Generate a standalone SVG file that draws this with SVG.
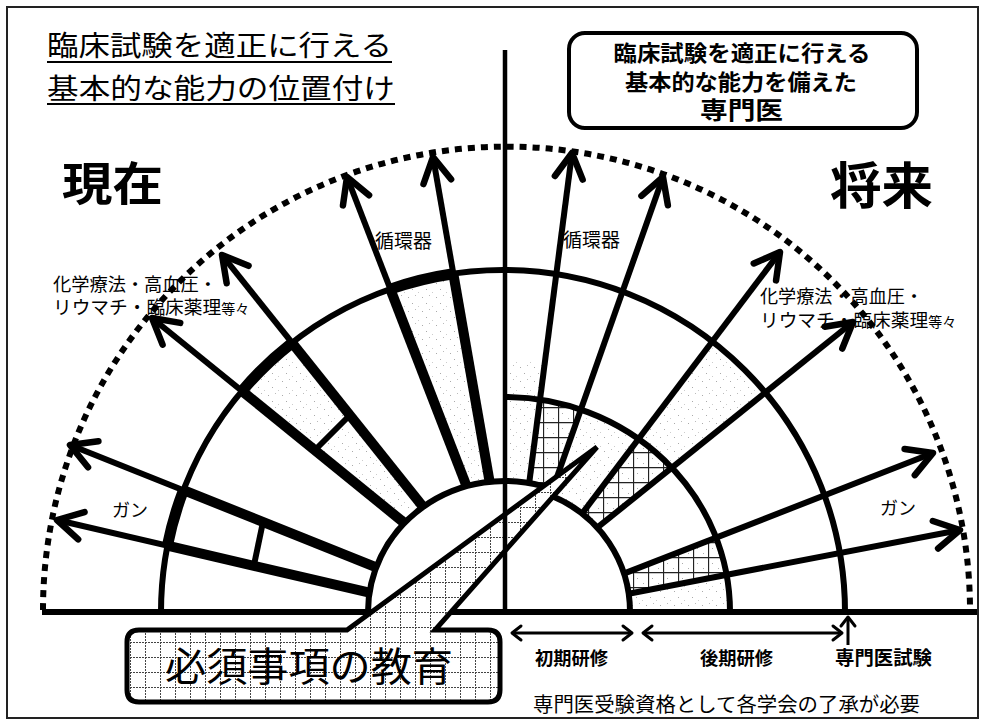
<svg xmlns="http://www.w3.org/2000/svg" width="981" height="720" viewBox="0 0 981 720">
<style>
.ln{fill:none;stroke:#000;stroke-width:6}
.thk{fill:none;stroke:#000;stroke-width:10;stroke-linecap:butt}
.arc{fill:none;stroke:#000;stroke-width:6}
.thin{fill:none;stroke:#000;stroke-width:3}
.jp{font-family:"Noto Sans CJK JP","Noto Sans CJK SC",sans-serif;fill:#000}
.b{font-weight:bold}
</style>
<defs>
<marker id="ah" viewBox="-30 -18 40 36" refX="0" refY="0" markerWidth="40" markerHeight="36" markerUnits="userSpaceOnUse" orient="auto">
<path d="M-25,-14 L0,0 L-25,14" fill="none" stroke="#000" stroke-width="6.5" stroke-linecap="round" stroke-linejoin="round"/>
</marker>
<marker id="th" viewBox="-13 -10 16 20" refX="0" refY="0" markerWidth="16" markerHeight="20" markerUnits="userSpaceOnUse" orient="auto-start-reverse">
<path d="M-9,-7 L0,0 L-9,7" fill="none" stroke="#000" stroke-width="3" stroke-linecap="round" stroke-linejoin="round"/>
</marker>
<pattern id="grid" patternUnits="userSpaceOnUse" width="15" height="15" x="130" y="627">
<rect width="15" height="15" fill="#fff"/>
<path d="M0,0.5 H15 M0.5,0 V15" stroke="#444" stroke-width="1" stroke-dasharray="2 1"/>
</pattern>
<pattern id="grid2" patternUnits="userSpaceOnUse" width="15" height="15" x="3" y="2">
<rect width="15" height="15" fill="#fff"/>
<rect x="4" y="6" width="1" height="1" fill="#aaa"/><rect x="10" y="11" width="1" height="1" fill="#aaa"/>
<path d="M0,0.5 H15 M0.5,0 V15" stroke="#222" stroke-width="1.3"/>
</pattern>
<pattern id="stip" patternUnits="userSpaceOnUse" width="14" height="14">
<rect width="14" height="14" fill="#fff"/>
<rect x="2" y="3" width="1" height="1" fill="#aaa"/><rect x="9" y="1" width="1" height="1" fill="#bbb"/>
<rect x="6" y="9" width="1" height="1" fill="#aaa"/><rect x="12" y="12" width="1" height="1" fill="#ccc"/>
</pattern>
</defs>
<rect width="981" height="720" fill="#fff"/>
<rect id="frame" x="7" y="7" width="971" height="711" fill="none" stroke="#222" stroke-width="2"/>

<g id="regions">
<path d="M423.1,506.9 L292.1,342.8 A342,342 0 0 0 242,391 L404.4,523 Z" fill="url(#stip)"/>
<path d="M466.6,486.2 L390.3,289.1 A342,342 0 0 1 453.3,273.7 L489.6,481.6 Z" fill="url(#stip)"/>
<path d="M507,360 L545,360 L529,483 L507,481 Z" fill="url(#stip)"/>
<path d="M551,494 L581,409 A225,215 0 0 1 638.5,439 L582.2,513.4 Z" fill="url(#stip)"/>
<path d="M638.5,439 L712.3,341.5 A342,342 0 0 1 765.3,392.5 L672,467.7 Z" fill="url(#stip)"/>
<path d="M628.6,593.7 L726.6,574.8 L730,612 L630,612 Z" fill="url(#stip)"/>
<path d="M529,483 L540.5,399.5 A225,215 0 0 1 581,409 L551,494 Z" fill="url(#grid2)"/>
<path d="M582.2,513.4 L638.5,439 A225,215 0 0 1 672,467.7 L597.2,527.7 A125,125 0 0 0 582.2,513.4 Z" fill="url(#grid2)"/>
<path d="M623.8,573.6 L716,537.6 A225,215 0 0 1 726.6,574.8 L628.6,593.7 A125,125 0 0 0 623.8,573.6 Z" fill="url(#grid2)"/>
</g>

<g id="arcs">
<path d="M43,610 A463.5,463.5 0 0 1 970,610" fill="none" stroke="#000" stroke-width="6" stroke-dasharray="7 6"/>
<path class="arc" d="M161,612 A342,342 0 0 1 845,612"/>
<path class="arc" d="M505,397 A225,215 0 0 1 730,612"/>
<path class="arc" d="M368,612 A137,131 0 0 1 543,486.1"/>
<path class="arc" d="M553,496.6 A125,125 0 0 1 630,612"/>
<path fill="none" stroke="#000" stroke-width="11" d="M167.4,545.7 A342,342 0 0 1 183.5,490.1"/>
<path fill="none" stroke="#000" stroke-width="11" d="M242,391 A342,342 0 0 1 292.1,342.8"/>
<path fill="none" stroke="#000" stroke-width="11" d="M390.3,289.1 A342,342 0 0 1 453.3,273.7"/>
<line class="ln" x1="42" y1="612" x2="977" y2="612"/>
</g>

<g id="connectors">
<line class="ln" x1="376.3" y1="567.3" x2="70" y2="445" marker-end="url(#ah)"/>
<line class="ln" x1="369.4" y1="592.6" x2="57" y2="520" marker-end="url(#ah)"/>
<line class="ln" x1="423.1" y1="506.9" x2="222" y2="255" marker-end="url(#ah)"/>
<line class="ln" x1="404.4" y1="523" x2="152" y2="318" marker-end="url(#ah)"/>
<line class="ln" x1="466.6" y1="486.2" x2="347" y2="177" marker-end="url(#ah)"/>
<line class="ln" x1="489.6" y1="481.6" x2="433" y2="157" marker-end="url(#ah)"/>
<line class="thk" x1="376.3" y1="567.3" x2="183.5" y2="490.1"/>
<line class="thk" x1="369.4" y1="592.6" x2="167.4" y2="545.7"/>
<line class="thk" x1="423.1" y1="506.9" x2="292.1" y2="342.8"/>
<line class="thk" x1="404.4" y1="523" x2="242" y2="391"/>
<line class="thk" x1="466.6" y1="486.2" x2="390.3" y2="289.1"/>
<line class="thk" x1="489.6" y1="481.6" x2="453.3" y2="273.7"/>
<line class="ln" x1="263" y1="522" x2="254" y2="565"/>
<line class="ln" x1="315" y1="450" x2="350" y2="415"/>
<line class="ln" x1="529.2" y1="483" x2="572" y2="153" marker-end="url(#ah)"/>
<line class="ln" x1="551" y1="494" x2="663" y2="177" marker-end="url(#ah)"/>
<line class="ln" x1="582.2" y1="513.4" x2="780" y2="252" marker-end="url(#ah)"/>
<line class="ln" x1="597.2" y1="527.7" x2="853" y2="322" marker-end="url(#ah)"/>
<line class="ln" x1="623.8" y1="573.6" x2="933" y2="453" marker-end="url(#ah)"/>
<line class="ln" x1="628.6" y1="593.7" x2="960" y2="530" marker-end="url(#ah)"/>
<line class="thin" x1="512" y1="633" x2="632" y2="633" marker-start="url(#th)" marker-end="url(#th)"/>
<line class="thin" x1="643" y1="633" x2="842" y2="633" marker-start="url(#th)" marker-end="url(#th)"/>
<line class="thin" x1="848" y1="645" x2="848" y2="617" marker-end="url(#th)"/>
</g>

<g id="callout">
<path d="M139,630 L347,630 L597,447 L435,630 L488,630 Q500,630 500,642 L500,690 Q500,702 488,702 L139,702 Q127,702 127,690 L127,642 Q127,630 139,630 Z" fill="url(#grid)" stroke="#000" stroke-width="5"/>
<text class="jp" x="165" y="681" font-size="40" textLength="288" lengthAdjust="spacingAndGlyphs">必須事項の教育</text>
</g>

<g id="axis">
<line x1="505" y1="50" x2="505" y2="612" stroke="#000" stroke-width="4.5"/>
</g>

<g id="title">
<text class="jp" x="47" y="56" font-size="28" textLength="345" lengthAdjust="spacingAndGlyphs">臨床試験を適正に行える</text>
<text class="jp" x="47" y="99" font-size="28" textLength="348" lengthAdjust="spacingAndGlyphs">基本的な能力の位置付け</text>
<line x1="47" y1="62" x2="392" y2="62" stroke="#000" stroke-width="2"/>
<line x1="47" y1="104" x2="395" y2="104" stroke="#000" stroke-width="2"/>
</g>

<g id="now-label"><text class="jp b" x="62" y="200" font-size="46" textLength="101" lengthAdjust="spacingAndGlyphs">現在</text></g>
<g id="future-label"><text class="jp b" x="830" y="204" font-size="50" textLength="103" lengthAdjust="spacingAndGlyphs">将来</text></g>

<g id="goal-box">
<rect x="569" y="33" width="348" height="95" rx="16" fill="#fff" stroke="#000" stroke-width="4"/>
<text class="jp b" x="742" y="61" font-size="22" text-anchor="middle" textLength="257" lengthAdjust="spacingAndGlyphs">臨床試験を適正に行える</text>
<text class="jp b" x="741" y="90" font-size="22" text-anchor="middle" textLength="232" lengthAdjust="spacingAndGlyphs">基本的な能力を備えた</text>
<text class="jp b" x="741.5" y="119" font-size="24" text-anchor="middle" textLength="83" lengthAdjust="spacingAndGlyphs">専門医</text>
</g>

<g id="labels-left">
<text class="jp" x="375" y="248" font-size="19">循環器</text>
<text class="jp" x="53" y="291" font-size="18" textLength="164" lengthAdjust="spacingAndGlyphs">化学療法・高血圧・</text>
<text class="jp" x="53" y="314" font-size="18.7">リウマチ・臨床薬理<tspan font-size="14">等々</tspan></text>
<text class="jp" x="112" y="517" font-size="18">ガン</text>
</g>
<g id="labels-right">
<text class="jp" x="563" y="247" font-size="19">循環器</text>
<text class="jp" x="760" y="303" font-size="18" textLength="163" lengthAdjust="spacingAndGlyphs">化学療法・高血圧・</text>
<text class="jp" x="760" y="327" font-size="18.7">リウマチ・臨床薬理<tspan font-size="14">等々</tspan></text>
<text class="jp" x="880" y="515" font-size="18">ガン</text>
</g>
<g id="labels-bottom">
<text class="jp b" x="535" y="665" font-size="18" textLength="73" lengthAdjust="spacingAndGlyphs">初期研修</text>
<text class="jp b" x="700" y="665" font-size="18" textLength="73" lengthAdjust="spacingAndGlyphs">後期研修</text>
<text class="jp b" x="835" y="665" font-size="19" textLength="97" lengthAdjust="spacingAndGlyphs">専門医試験</text>
<text class="jp" x="533" y="712" font-size="20" textLength="387" lengthAdjust="spacingAndGlyphs">専門医受験資格として各学会の了承が必要</text>
</g>
</svg>
